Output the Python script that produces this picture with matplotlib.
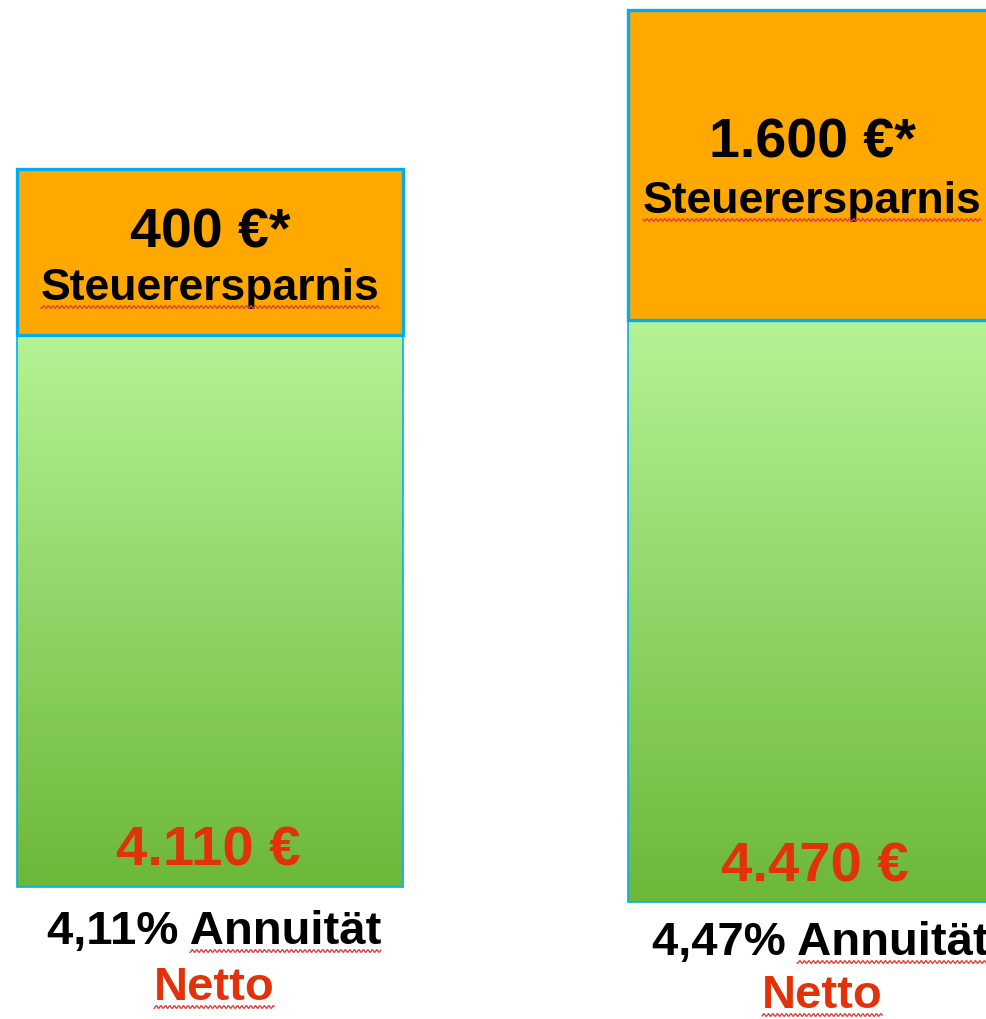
import numpy as np
import matplotlib
matplotlib.use("Agg")
import matplotlib.pyplot as plt

# Data
net_values = [4110, 4470]          # Netto-Annuität in €
tax_savings = [400, 1600]          # Steuerersparnis in €
rates = ["4,11%", "4,47%"]
net_labels = ["4.110 €", "4.470 €"]
saving_labels = ["400 €*", "1.600 €*"]

# layout (pixel-like units, y goes downward)
bar_x = [210, 816]
bar_w = [386, 376]
base_y = [887, 902]
text_x = [210, 812]
net_x = [208, 815]
label_x = [214, 820]
netto_x = [214, 822]

# bars are not drawn to a zero-based scale in the original slide
def net_h(v):
    return 209.5 + v * 30 / 360

def save_h(v):
    return 118 + v * 0.12

blue = "#00AEEF"
orange = "#FFA800"
red = "#E2320A"
wave_red = "#E8403A"

plt.rcParams["font.family"] = ["Liberation Sans", "DejaVu Sans"]
plt.rcParams["font.weight"] = "bold"

fig = plt.figure(figsize=(9.87, 10.19), dpi=100)
ax = fig.add_axes([0, 0, 1, 1])
ax.set_xlim(0, 987)
ax.set_ylim(1019, 0)
ax.axis("off")

green_h = [net_h(v) for v in net_values]
green_top = [b - h for b, h in zip(base_y, green_h)]
orange_h = [save_h(v) for v in tax_savings]
orange_top = [t - h for t, h in zip(green_top, orange_h)]

# green gradient bars
grad = np.linspace(0, 1, 256).reshape(-1, 1)
top_c = np.array([0xB4, 0xF3, 0x94]) / 255
bot_c = np.array([0x6C, 0xB8, 0x3A]) / 255
img = top_c + (bot_c - top_c) * grad[..., None]
img = img.reshape(256, 1, 3)

green_bars = ax.bar(bar_x, green_h, width=bar_w, bottom=green_top,
                    color="none", edgecolor=blue, linewidth=1.2, zorder=3)
for p in green_bars:
    x0, y0 = p.get_x(), p.get_y()
    im = ax.imshow(img, extent=[x0, x0 + p.get_width(), y0 + p.get_height(), y0],
                   aspect="auto", zorder=2, interpolation="bilinear")
    im.set_clip_path(p)

ax.bar(bar_x, orange_h, width=bar_w, bottom=orange_top,
       color=orange, edgecolor=blue, linewidth=2.4, zorder=4)
ax.set_xlim(0, 987)
ax.set_ylim(1019, 0)

renderer = fig.canvas.get_renderer()


def text_width(s, size):
    t = ax.text(0, 0, s, fontsize=size, fontweight="bold")
    bb = t.get_window_extent(renderer=renderer)
    t.remove()
    return bb.width


def wavy(x0, x1, y):
    xs = np.linspace(x0, x1, int((x1 - x0) * 3))
    ys = y + 1.3 * np.sin(xs * 2 * np.pi / 4.5)
    ax.plot(xs, ys, color=wave_red, lw=1.0, zorder=6, solid_capstyle="butt")


save_y = [247, 157]
word_y = [300, 213]
net_y = [865, 882]
rate_y = [944, 955]
netto_y = [1000, 1008]

for i in range(2):
    ax.text(text_x[i], save_y[i], saving_labels[i], fontsize=40, ha="center",
            va="baseline", color="black", zorder=5)
    t = ax.text(text_x[i], word_y[i], "Steuerersparnis", fontsize=32, ha="center",
                va="baseline", color="black", zorder=5)
    bb = t.get_window_extent(renderer=renderer)
    wavy(bb.x0, bb.x1, word_y[i] + 7)

    ax.text(net_x[i], net_y[i], net_labels[i], fontsize=40.5, ha="center",
            va="baseline", color=red, zorder=5)

    t = ax.text(label_x[i], rate_y[i], rates[i] + " Annuität", fontsize=34,
                ha="center", va="baseline", color="black", zorder=5)
    bb = t.get_window_extent(renderer=renderer)
    w = text_width("Annuität", 34)
    wavy(bb.x1 - w, bb.x1, rate_y[i] + 7)

    t = ax.text(netto_x[i], netto_y[i], "Netto", fontsize=34, ha="center",
                va="baseline", color=red, zorder=5)
    bb = t.get_window_extent(renderer=renderer)
    wavy(bb.x0, bb.x1, netto_y[i] + 7)

fig.savefig("out.png", dpi=100, facecolor="white")
